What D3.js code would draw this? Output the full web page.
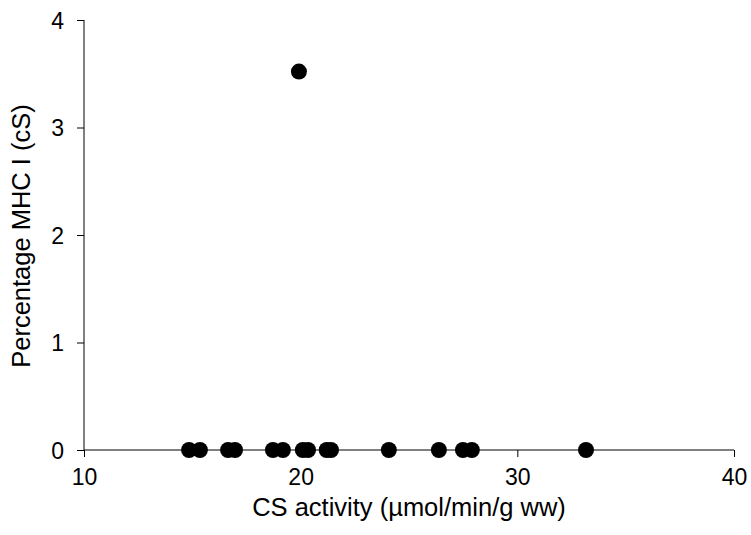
<!DOCTYPE html>
<html><head><meta charset="utf-8">
<script src="https://cdn.jsdelivr.net/npm/d3@7"></script>
<style>body{margin:0;background:#fff}svg{display:block}text{font-family:"Liberation Sans",Arial,sans-serif}</style>
</head><body>
<svg id="c" width="751" height="535"></svg>
<script>
const csActivity = [14.85, 15.35, 16.65, 16.97, 18.72, 19.18, 20.1, 20.34, 21.2, 21.4, 24.07, 26.38, 27.49, 27.9, 33.17, 19.92];
const mhcI       = [0, 0, 0, 0, 0, 0, 0, 0, 0, 0, 0, 0, 0, 0, 0, 3.52];
const xTicks = [10, 20, 30, 40];
const yTicks = [0, 1, 2, 3, 4];

const svg = d3.select("#c");
const m = {l: 84, r: 17, t: 20, b: 85};
const W = 751, H = 535;
const x = d3.scaleLinear().domain([10, 40]).range([m.l, W - m.r]);
const y = d3.scaleLinear().domain([0, 4]).range([H - m.b, m.t]);

const gx = svg.append("g").attr("transform", `translate(0,${y(0)})`)
  .call(d3.axisBottom(x).tickValues(xTicks).tickSize(7).tickPadding(11).tickFormat(d3.format("d")));
const gy = svg.append("g").attr("transform", `translate(${x(10)},0)`)
  .call(d3.axisLeft(y).tickValues(yTicks).tickSize(7).tickPadding(13).tickFormat(d3.format("d")));
[gx, gy].forEach(g => {
  g.select(".domain").attr("stroke", "#000").attr("stroke-width", 1).attr("d",
    g === gx ? `M${x(10)},0H${x(40)}` : `M0,${y(0)}V${y(4)}`);
  g.selectAll(".tick line").attr("stroke", "#000");
  g.selectAll(".tick text").attr("font-size", 23).attr("fill", "#000")
    .attr("font-family", '"Liberation Sans",Arial,sans-serif');
});
gx.selectAll(".tick text").attr("dy", "0.75em");
gy.selectAll(".tick text").attr("dy", "0.35em");

svg.append("text").attr("x", (x(10) + x(40)) / 2 + 0).attr("y", 516)
  .attr("text-anchor", "middle").attr("font-size", 25.5).text("CS activity (µmol/min/g ww)");
svg.append("text").attr("transform", `translate(30,${(y(0) + y(4)) / 2 + 1}) rotate(-90)`)
  .attr("text-anchor", "middle").attr("font-size", 25.5).text("Percentage MHC I (cS)");

svg.append("g").selectAll("circle").data(csActivity).join("circle")
  .attr("cx", d => x(d)).attr("cy", (d, i) => y(mhcI[i])).attr("r", 8).attr("fill", "#000");
</script>
</body></html>
